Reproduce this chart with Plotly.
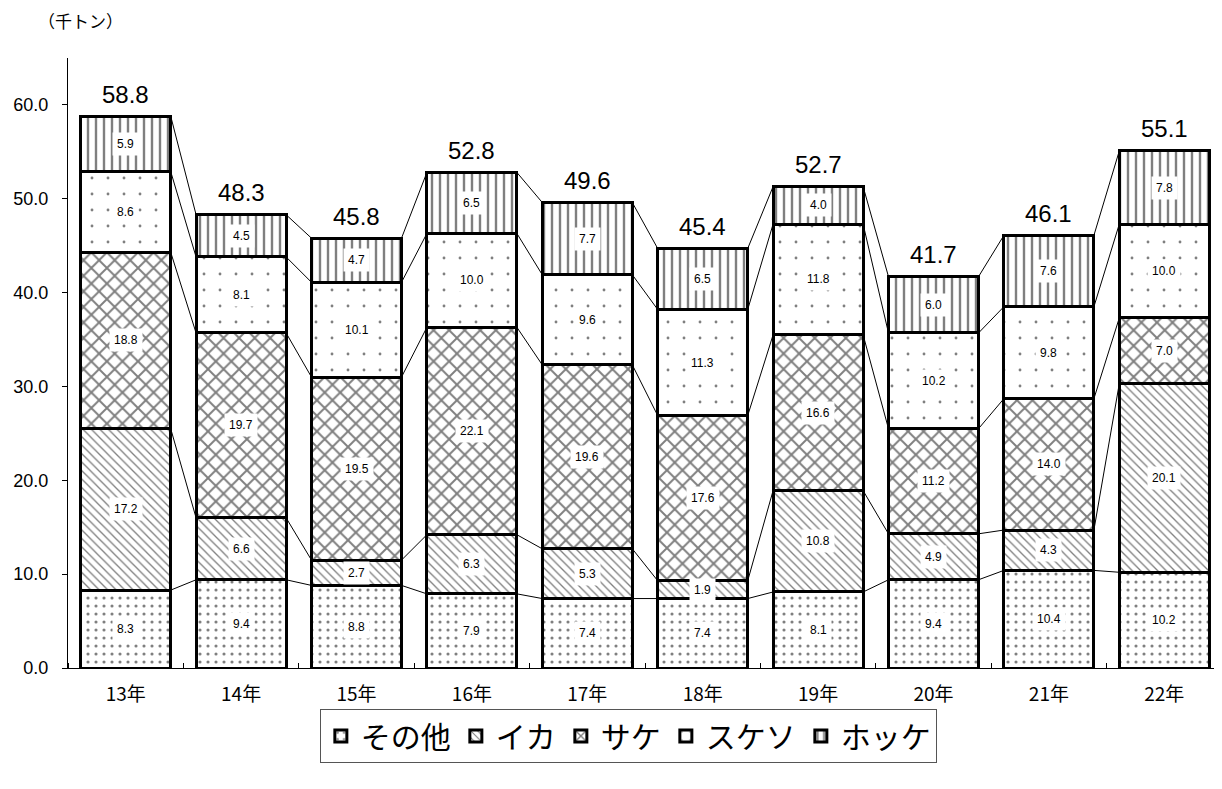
import plotly.graph_objects as go

years = ["13年", "14年", "15年", "16年", "17年", "18年", "19年", "20年", "21年", "22年"]
series_names = ["その他", "イカ", "サケ", "スケソ", "ホッケ"]
sonota = [8.3, 9.4, 8.8, 7.9, 7.4, 7.4, 8.1, 9.4, 10.4, 10.2]
ika = [17.2, 6.6, 2.7, 6.3, 5.3, 1.9, 10.8, 4.9, 4.3, 20.1]
sake = [18.8, 19.7, 19.5, 22.1, 19.6, 17.6, 16.6, 11.2, 14.0, 7.0]
sukeso = [8.6, 8.1, 10.1, 10.0, 9.6, 11.3, 11.8, 10.2, 9.8, 10.0]
hokke = [5.9, 4.5, 4.7, 6.5, 7.7, 6.5, 4.0, 6.0, 7.6, 7.8]
totals = [58.8, 48.3, 45.8, 52.8, 49.6, 45.4, 52.7, 41.7, 46.1, 55.1]
y_ticks = [0, 10, 20, 30, 40, 50, 60]

series = [sonota, ika, sake, sukeso, hokke]
patterns = [
    dict(shape=".", size=8, solidity=0.12),
    dict(shape="\\", size=6, solidity=0.22),
    dict(shape="x", size=11, solidity=0.32),
    dict(shape=".", size=16, solidity=0.025),
    dict(shape="|", size=8, solidity=0.3),
]

FONT = "Liberation Sans, Arial, Noto Sans CJK JP"
JFONT = "Noto Sans CJK JP, Liberation Sans"
BW = 0.78
xs = list(range(len(years)))

fig = go.Figure()

# connecting lines between bars at segment boundaries
cum = [0.0] * len(years)
cums = []
for s in series:
    cum = [c + v for c, v in zip(cum, s)]
    cums.append(cum)
for level in cums:
    lx, ly = [], []
    for i in range(len(years) - 1):
        lx += [i + BW / 2, i + 1 - BW / 2, None]
        ly += [level[i], level[i + 1], None]
    fig.add_trace(go.Scatter(x=lx, y=ly, mode="lines", line=dict(color="black", width=1),
                             showlegend=False, hoverinfo="skip"))

for name, s, p in zip(series_names, series, patterns):
    fig.add_trace(go.Bar(
        x=xs, y=s, name=name, width=BW,
        marker=dict(color="white", line=dict(color="black", width=3),
                    pattern=dict(fgcolor="black", bgcolor="white", fillmode="overlay", **p)),
    ))

# segment labels
base = [0.0] * len(years)
for s in series:
    for i, v in enumerate(s):
        fig.add_annotation(x=i, y=base[i] + v / 2, text=f"{v:.1f}", showarrow=False,
                           font=dict(size=12, family=FONT, color="black"),
                           bgcolor="white", borderpad=4)
    base = [b + v for b, v in zip(base, s)]

# totals
for i, t in enumerate(totals):
    fig.add_annotation(x=i, y=base[i], text=f"{t:.1f}", showarrow=False, yshift=22,
                       font=dict(size=24, family=FONT, color="black"))

fig.add_annotation(xref="paper", yref="paper", x=0.0104, y=1.062, xanchor="center",
                   yanchor="middle", text="（千トン）", showarrow=False,
                   font=dict(size=17, family=JFONT, color="black"))

fig.update_layout(
    width=1214, height=781,
    margin=dict(l=60, r=0, t=50, b=121),
    barmode="stack",
    plot_bgcolor="white", paper_bgcolor="white",
    font=dict(family=FONT, color="black"),
    showlegend=True,
    legend=dict(orientation="h", xref="container", yref="container",
                x=0.511, xanchor="center", y=0.1025, yanchor="top",
                bordercolor="#555", borderwidth=1, bgcolor="white",
                font=dict(size=30, family=JFONT, color="black"),
                itemwidth=30, traceorder="normal", tracegroupgap=0),
    xaxis=dict(range=[-0.5, 9.5], tickmode="array", tickvals=xs, ticktext=years,
               automargin=False,
               showline=True, linecolor="black", linewidth=1, showgrid=False, zeroline=False,
               ticks="", tickfont=dict(size=19, family=JFONT), ticklabelstandoff=9,
               minor=dict(ticks="inside", ticklen=5, tick0=0.5, dtick=1, tickcolor="black", showgrid=False)),
    yaxis=dict(range=[0, 65], tickmode="array", tickvals=y_ticks,
               ticktext=[f"{v:.1f}" for v in y_ticks], automargin=False,
               showline=True, linecolor="black", linewidth=1, showgrid=False, zeroline=False,
               ticks="outside", ticklen=5, tickcolor="black", tickfont=dict(size=18, family=FONT),
               ticklabelstandoff=10),
)

fig.write_html("out.html")
